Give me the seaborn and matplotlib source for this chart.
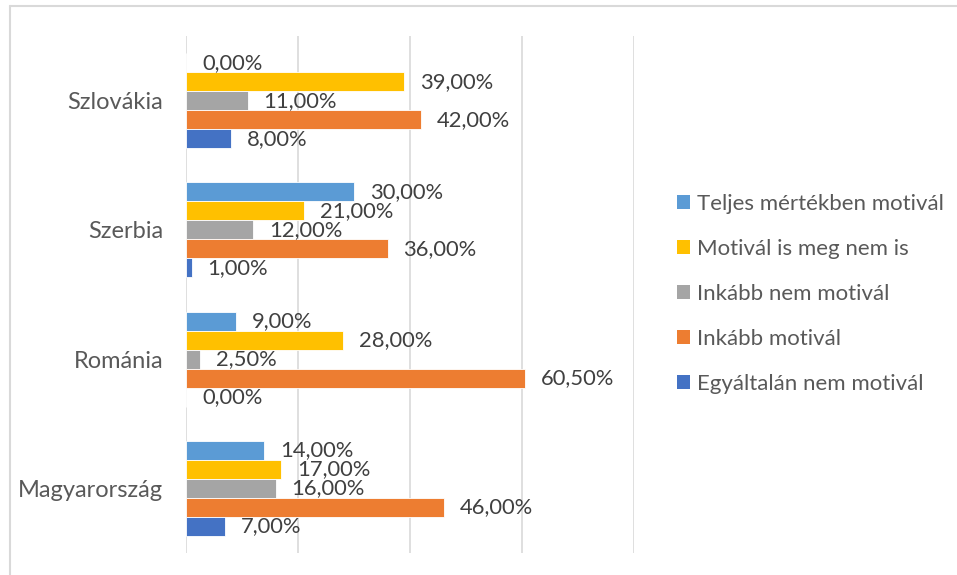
import matplotlib
matplotlib.use("Agg")
import matplotlib.pyplot as plt
from matplotlib.lines import Line2D
from matplotlib.patches import Patch
import seaborn as sns
import pandas as pd

countries = ["Szlovákia", "Szerbia", "Románia", "Magyarország"]
series = [
    "Teljes mértékben motivál",
    "Motivál is meg nem is",
    "Inkább nem motivál",
    "Inkább motivál",
    "Egyáltalán nem motivál",
]
teljes = [0.0, 30.0, 9.0, 14.0]
motival_is = [39.0, 21.0, 28.0, 17.0]
inkabb_nem = [11.0, 12.0, 2.5, 16.0]
inkabb = [42.0, 36.0, 60.5, 46.0]
egyaltalan = [8.0, 1.0, 0.0, 7.0]
colors = ["#5B9BD5", "#FFC000", "#A5A5A5", "#ED7D31", "#4472C4"]

values = [teljes, motival_is, inkabb_nem, inkabb, egyaltalan]
rows = []
for s, vals in zip(series, values):
    for c, v in zip(countries, vals):
        rows.append({"Ország": c, "Sorozat": s, "Érték": v})
df = pd.DataFrame(rows)

sns.set_style("white")
plt.rcParams["font.family"] = ["Lato", "DejaVu Sans"]

fig = plt.figure(figsize=(9.57, 5.75), dpi=100)
W, H = 957, 575
ax = fig.add_axes([186 / W, 1 - 553 / H, (634 - 186) / W, (553 - 36) / H])

sns.barplot(
    data=df, y="Ország", x="Érték", hue="Sorozat",
    order=countries, hue_order=series, palette=colors, saturation=1,
    orient="h", width=0.735, ax=ax, legend=False,
    edgecolor="white", linewidth=0.6, errorbar=None,
)

ax.set_xlim(0, 80)
ax.set_ylim(3.5, -0.5)
ax.set_xticks([0, 20, 40, 60, 80])
ax.xaxis.grid(True, color="#D9D9D9", linewidth=1.2)
ax.set_axisbelow(True)
ax.tick_params(axis="x", labelbottom=False, length=0)
ax.tick_params(axis="y", length=0, pad=16.5, labelsize=17, labelcolor="#595959")
ax.set_xlabel("")
ax.set_ylabel("")
for sp in ax.spines.values():
    sp.set_visible(False)

def fmt(v):
    return f"{v:.2f}".replace(".", ",") + "%"

for cont in ax.containers:
    ax.bar_label(cont, labels=[fmt(b.get_width()) for b in cont],
                 padding=11.5, fontsize=15.8, color="#404040")

handles = [Patch(facecolor=c, edgecolor="none") for c in colors]
fig.legend(handles, series, loc="center left", bbox_to_anchor=(657 / W, 1 - 294 / H),
           frameon=False, fontsize=16, labelcolor="#595959",
           handlelength=0.6, handleheight=0.6, handletextpad=0.3,
           labelspacing=1.12)

# chart frame (top and left edges)
fig.add_artist(Line2D([10 / W, 1.0], [1 - 6 / H, 1 - 6 / H], color="#D9D9D9", linewidth=1.5))
fig.add_artist(Line2D([10 / W, 10 / W], [0.0, 1 - 6 / H], color="#D9D9D9", linewidth=1.5))

fig.savefig("out.png", dpi=100, facecolor="white")
